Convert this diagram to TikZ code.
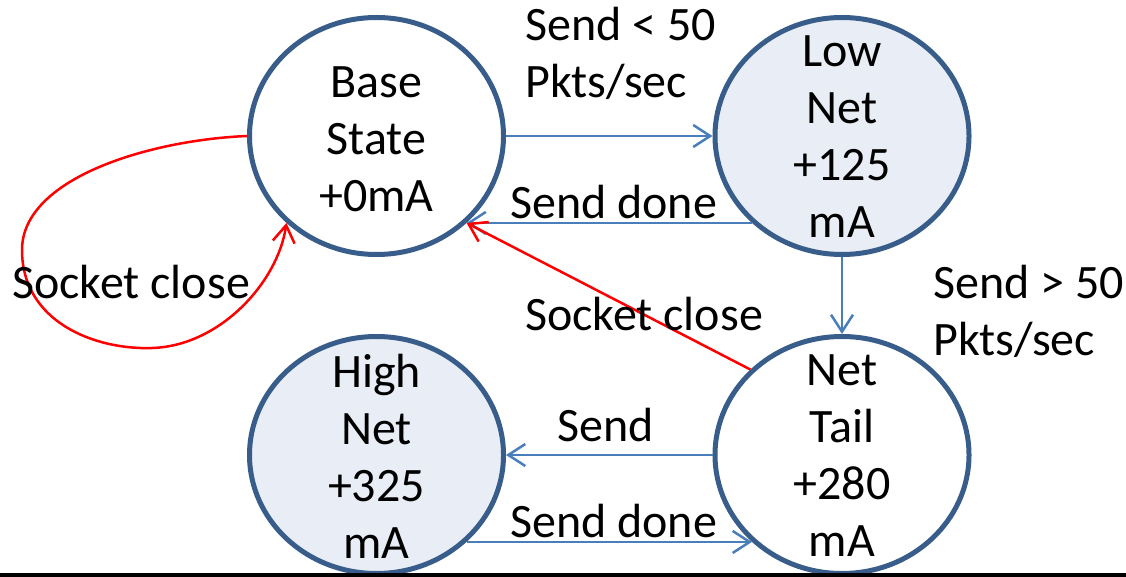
\documentclass[tikz,border=0pt]{standalone}
\usepackage{fontspec}
\setmainfont{Carlito}
\usetikzlibrary{arrows.meta,shapes.geometric}
\definecolor{ringblue}{RGB}{56,93,138}
\definecolor{paleblue}{RGB}{233,237,245}
\definecolor{linkblue}{RGB}{74,126,187}
\begin{document}
\begin{tikzpicture}[x=1pt,y=-1pt,
  stnode/.style={ellipse, draw=ringblue, line width=5pt, minimum width=254pt,
    minimum height=237pt, inner sep=0pt},
  busy/.style={stnode, fill=paleblue},
  idle/.style={stnode, fill=white},
  sttext/.style={inner sep=0pt, align=center, font=\fontsize{48}{57}\selectfont},
  lbl/.style={font=\fontsize{48}{57}\selectfont, inner sep=0pt},
  flow/.style={draw=linkblue, line width=2.5pt, -{Straight Barb[length=17pt,width=22pt]}},
  reset/.style={draw=red, line width=2.5pt, -{Straight Barb[length=17pt,width=22pt]}}
]
\useasboundingbox (0,0) rectangle (1126,577);

% states
\node[idle] (base) at (376.5,136) {};
\node[busy] (low)  at (842,136)   {};
\node[busy] (high) at (376.5,455) {};
\node[idle] (tail) at (842,455)   {};

\node[sttext] (baseT) at ([yshift=-3pt]base.center) {Base\\State\\+0mA};
\node[sttext] (lowT)  at ([yshift=-1pt]low.center)  {Low\\Net\\+125\\mA};
\node[sttext] (highT) at ([yshift=-1pt]high.center) {High\\Net\\+325\\mA};
\node[sttext] (tailT) at ([yshift=-1pt]tail.center) {Net\\Tail\\+280\\mA};

% transitions
\draw[flow] (base.east) -- (low.west);
\draw[flow] (low.224) -- (base.-44);
\draw[flow] (low.south) -- (tail.north);
\draw[flow] (tail.west) -- (high.east);
\draw[flow] (high.-44) -- (tail.224);
\draw[reset] (tail.137) -- (base.-44);

\coordinate (loopL) at (22,250);
\coordinate (loopB) at (152,348);
\draw[reset] (base.west) .. controls (150,140) and (22,178) .. (loopL)
  .. controls (22,322) and (95,350) .. (loopB)
  .. controls (220,346) and (278,282) .. (base.224);

% transition labels
\node[lbl, align=left, anchor=west] (l1) at (525,53) {Send < 50\\Pkts/sec};
\node[lbl, align=left, anchor=west] (l2) at (933,311) {Send > 50\\Pkts/sec};
\node[lbl, anchor=west] (l3) at (510,202) {Send done};
\node[lbl, anchor=west] (l4) at (12,282) {Socket close};
\node[lbl, anchor=west] (l5) at (525,314) {Socket close};
\node[lbl, anchor=west] (l6) at (557,425) {Send};
\node[lbl, anchor=west] (l7) at (510,521) {Send done};

% rule along the bottom edge
\draw[line width=4pt] (0,575) -- (1126,575);
\end{tikzpicture}
\end{document}
